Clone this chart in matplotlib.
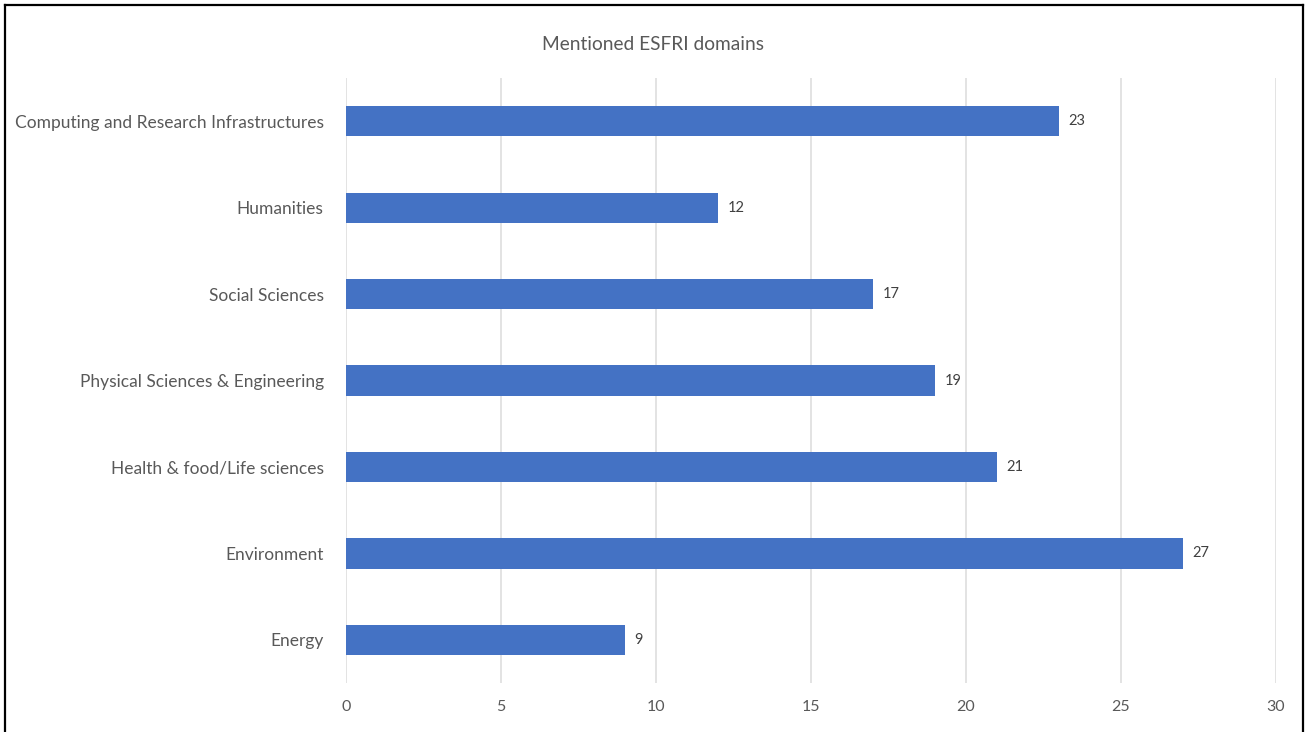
import matplotlib
matplotlib.use("Agg")
import matplotlib.pyplot as plt
from matplotlib.lines import Line2D

# Data (bottom to top)
domains = ["Energy", "Environment", "Health & food/Life sciences",
           "Physical Sciences & Engineering", "Social Sciences",
           "Humanities", "Computing and Research Infrastructures"]
counts = [9, 27, 21, 19, 17, 12, 23]
x_ticks = [0, 5, 10, 15, 20, 25, 30]

plt.rcParams["font.family"] = ["Lato", "DejaVu Sans"]
text_color = "#595959"

fig = plt.figure(figsize=(13.06, 7.32), dpi=100)
ax = fig.add_axes([0.2649, 0.0669, 0.977 - 0.2649, 0.8934 - 0.0669])

ypos = list(range(len(domains)))
bars = ax.barh(ypos, counts, height=0.35, color="#4472C4", zorder=3)

for y, v in zip(ypos, counts):
    ax.text(v + 0.3, y, str(v), va="center", ha="left", fontsize=10.5, color="#404040")

ax.set_xlim(0, 30)
ax.set_ylim(-0.5, len(domains) - 0.5)
ax.set_xticks(x_ticks)
ax.set_yticks(ypos)
ax.set_yticklabels(domains)
ax.tick_params(axis="both", length=0, labelsize=12.5, colors=text_color)
ax.tick_params(axis="x", labelsize=11.5, pad=12)
ax.tick_params(axis="y", pad=16)
ax.grid(axis="x", color="#dedede", linewidth=1.2, zorder=0)
for s in ax.spines.values():
    s.set_visible(False)

fig.text(0.5, 1 - 45 / 732, "Mentioned ESFRI domains", ha="center", va="center",
         fontsize=13.8, color=text_color)

# frame around the figure (no bottom edge)
W, H = 1306, 732
for xs, ys in [([5, 5], [0, 727]), ([5, 1303], [727, 727]), ([1303, 1303], [727, 0])]:
    fig.add_artist(Line2D([x / W for x in xs], [y / H for y in ys],
                          color="black", linewidth=1.6, transform=fig.transFigure))

fig.savefig("out.png", dpi=100)
